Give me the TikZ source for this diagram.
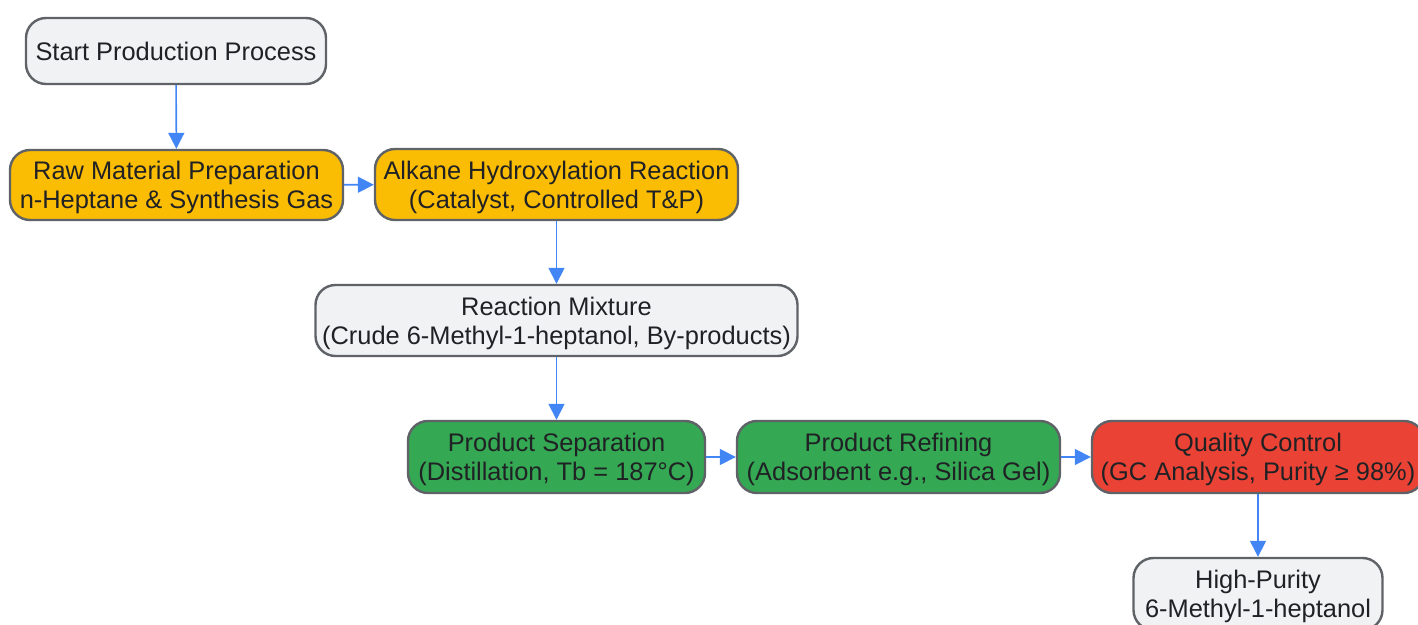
\documentclass[tikz,border=0pt]{standalone}
\usepackage{fontspec}
\setmainfont{Liberation Sans}
\usepackage{tikz}
\usetikzlibrary{arrows.meta}
\definecolor{boxgray}{HTML}{F1F2F4}
\definecolor{boxline}{HTML}{5F6368}
\definecolor{boxyellow}{HTML}{FBBC04}
\definecolor{boxgreen}{HTML}{34A853}
\definecolor{boxred}{HTML}{EA4335}
\definecolor{flowblue}{HTML}{4285F4}
\definecolor{txt}{HTML}{202124}

\begin{document}
\begin{tikzpicture}[x=0.5pt, y=-0.5pt,
    procbox/.style={draw=boxline, line width=1.2pt, rounded corners=10pt, align=center,
        inner sep=0pt, text depth=0pt, text=txt, font=\fontsize{12.7}{14.5}\selectfont},
    flow/.style={draw=flowblue, line width=0.8pt, -{Triangle[length=8pt,width=8pt]}}]
    \useasboundingbox (0,0) rectangle (1418,625);
    % first row
    \node[procbox, fill=boxgray, minimum width=150pt, minimum height=33pt] (start) at (176,51) {Start Production Process};
    \node[procbox, fill=boxyellow, minimum width=166.5pt, minimum height=35pt] (raw) at (176.5,185) {Raw Material Preparation\\n-Heptane \& Synthesis Gas};
    \node[procbox, fill=boxyellow, minimum width=181.5pt, minimum height=35.5pt] (hydrox) at (556.5,184.5) {Alkane Hydroxylation Reaction\\(Catalyst, Controlled T\&P)};
    \node[procbox, fill=boxgray, minimum width=241pt, minimum height=35.5pt] (mixture) at (556.5,320.5) {Reaction Mixture\\(Crude 6-Methyl-1-heptanol, By-products)};
    % purification
    \node[procbox, fill=boxgreen, minimum width=148.5pt, minimum height=36pt] (separation) at (556.5,457) {Product Separation\\(Distillation, Tb = 187°C)};
    \node[procbox, fill=boxgreen, minimum width=161.5pt, minimum height=36pt] (refining) at (898.5,457) {Product Refining\\(Adsorbent e.g., Silica Gel)};
    \node[procbox, fill=boxred, minimum width=166pt, minimum height=36pt] (quality) at (1258,457) {Quality Control\\(GC Analysis, Purity ≥ 98\%)};
    \node[procbox, fill=boxgray, minimum width=124.5pt, minimum height=36pt] (product) at (1258,594) {High-Purity\\6-Methyl-1-heptanol};
    % arrows
    \draw[flow] (start) -- (raw);
    \draw[flow] (raw) -- (hydrox);
    \draw[flow] (hydrox) -- (mixture);
    \draw[flow] (mixture) -- (separation);
    \draw[flow] (separation) -- (refining);
    \draw[flow] (refining) -- (quality);
    \draw[flow] (quality) -- (product);
\end{tikzpicture}
\end{document}
